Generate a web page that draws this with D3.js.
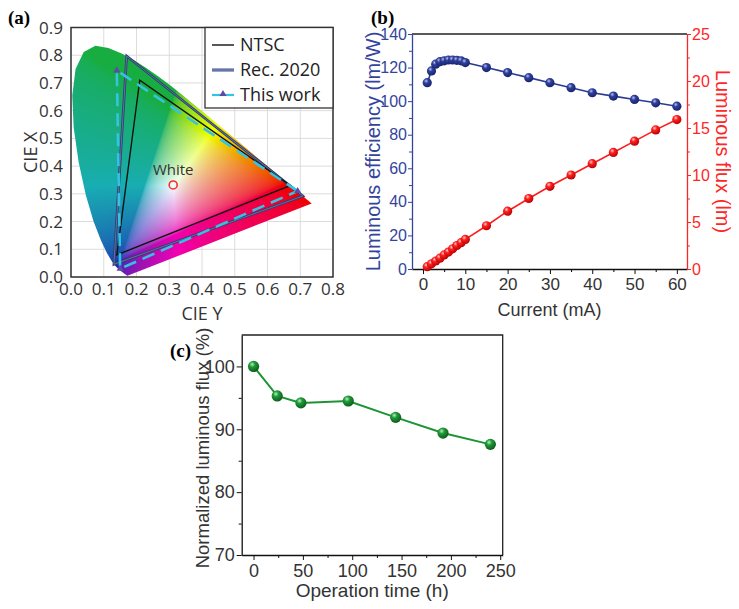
<!DOCTYPE html>
<html>
<head>
<meta charset="utf-8">
<script src="https://cdn.jsdelivr.net/npm/d3@7"></script>
<style>
  body { margin: 0; background: #fff; }
  .sans { font-family: "Liberation Sans", Arial, sans-serif; }
  .cal { font-family: "Open Sans", sans-serif; }
</style>
</head>
<body>
<div id="chart"></div>
<script>
// ---- data ----
// CIE 1931 spectral locus (x, y), 380-700 nm
var locusX = [0.1741,0.1740,0.1738,0.1736,0.1733,0.1730,0.1726,0.1721,0.1714,0.1703,0.1689,0.1669,0.1644,0.1611,0.1566,0.1510,0.1440,0.1355,0.1241,0.1096,0.0913,0.0687,0.0454,0.0235,0.0082,0.0039,0.0139,0.0389,0.0743,0.1142,0.1547,0.1929,0.2296,0.2658,0.3016,0.3373,0.3731,0.4087,0.4441,0.4788,0.5125,0.5448,0.5752,0.6029,0.6270,0.6482,0.6658,0.6801,0.6915,0.7006,0.7079,0.7140,0.7190,0.7230,0.7260,0.7283,0.7300,0.7311,0.7320,0.7334,0.7344,0.7347];
var locusY = [0.0050,0.0050,0.0049,0.0049,0.0048,0.0048,0.0048,0.0048,0.0051,0.0058,0.0069,0.0086,0.0109,0.0138,0.0177,0.0227,0.0297,0.0399,0.0578,0.0868,0.1327,0.2007,0.2950,0.4127,0.5384,0.6548,0.7502,0.8120,0.8338,0.8262,0.8059,0.7816,0.7543,0.7243,0.6923,0.6589,0.6245,0.5896,0.5547,0.5202,0.4866,0.4544,0.4242,0.3965,0.3725,0.3514,0.3340,0.3197,0.3083,0.2993,0.2920,0.2859,0.2809,0.2770,0.2740,0.2717,0.2700,0.2689,0.2680,0.2666,0.2656,0.2653];

var gamutNames = ["NTSC", "Rec. 2020", "This work"];
var ntsc = [[0.67, 0.33], [0.21, 0.71], [0.14, 0.08]];
var rec2020 = [[0.708, 0.292], [0.170, 0.797], [0.131, 0.046]];
var thisWork = [[0.692, 0.31], [0.14, 0.745], [0.15, 0.03]];
var whitePoint = [0.312, 0.332];

var cieTicksX = [0, 0.1, 0.2, 0.3, 0.4, 0.5, 0.6, 0.7, 0.8];
var cieTicksY = [0, 0.1, 0.2, 0.3, 0.4, 0.5, 0.6, 0.7, 0.8, 0.9];

// panel b
var current = [1, 2, 3, 4, 5, 6, 7, 8, 9, 10, 15, 20, 25, 30, 35, 40, 45, 50, 55, 60];
var efficiency = [111, 118, 122, 123.5, 124, 124.5, 124.5, 124.3, 124, 123, 120, 117, 114, 111, 108, 105, 103, 101, 99, 97];
var flux = [0.25, 0.55, 0.85, 1.15, 1.5, 1.8, 2.15, 2.5, 2.8, 3.15, 4.6, 6.15, 7.5, 8.8, 10.0, 11.2, 12.4, 13.6, 14.8, 15.9];

// panel c
var opTime = [0, 24, 48, 96, 144, 192, 240];
var normFlux = [100, 95.3, 94.2, 94.5, 91.9, 89.4, 87.6];

var blue = "#34449c", red = "#ff2626";

var svg = d3.select("#chart").append("svg")
  .attr("width", 739).attr("height", 609)
  .style("background", "#fff");

var defs = svg.append("defs");

function ball(id, hi, mid, dark) {
  var g = defs.append("radialGradient").attr("id", id)
    .attr("cx", "38%").attr("cy", "32%").attr("r", "70%");
  g.append("stop").attr("offset", "0%").attr("stop-color", hi);
  g.append("stop").attr("offset", "35%").attr("stop-color", mid);
  g.append("stop").attr("offset", "100%").attr("stop-color", dark);
}
ball("ballBlue", "#b8c2f0", "#2f3f9c", "#18226a");
ball("ballRed", "#ffd0d0", "#ff2020", "#b80000");
ball("ballGreen", "#b8f0c0", "#1f9a38", "#0c5a1c");

// ================= (a) CIE diagram =================
var xA = d3.scaleLinear().domain([0, 0.8]).range([71, 333]);
var yA = d3.scaleLinear().domain([0, 0.9]).range([277, 27.5]);

var gA = svg.append("g").attr("class", "cal");

// grid
gA.selectAll(".gx").data(cieTicksX).enter().append("line")
  .attr("x1", d => xA(d)).attr("x2", d => xA(d))
  .attr("y1", yA(0)).attr("y2", yA(0.9))
  .attr("stroke", "#dcdcdc").attr("stroke-width", 1);
gA.selectAll(".gy").data(cieTicksY).enter().append("line")
  .attr("x1", xA(0)).attr("x2", xA(0.8))
  .attr("y1", d => yA(d)).attr("y2", d => yA(d))
  .attr("stroke", "#dcdcdc").attr("stroke-width", 1);

// horseshoe colours painted on a canvas, clipped to the locus
var locus = locusX.map((x, i) => [x, locusY[i]]);
var locusLine = d3.line().x(d => xA(d[0])).y(d => yA(d[1]));

defs.append("clipPath").attr("id", "locusClip")
  .append("path").attr("d", locusLine(locus) + "Z");

var x0 = Math.floor(xA(0)), y0 = Math.floor(yA(0.9));
var cw = Math.ceil(xA(0.8)) - x0, ch = Math.ceil(yA(0)) - y0;
var canvas = document.createElement("canvas");
canvas.width = cw; canvas.height = ch;
var ctx = canvas.getContext("2d");
var img = ctx.createImageData(cw, ch);
function gam(c) { return c <= 0.0031308 ? 12.92 * c : 1.055 * Math.pow(c, 1 / 2.4) - 0.055; }
for (var py = 0; py < ch; py++) {
  for (var px = 0; px < cw; px++) {
    var cx = xA.invert(x0 + px + 0.5), cy = yA.invert(y0 + py + 0.5);
    if (cy <= 0.001) cy = 0.001;
    var X = cx / cy, Y = 1, Z = (1 - cx - cy) / cy;
    var r = 3.2406 * X - 1.5372 * Y - 0.4986 * Z;
    var g = -0.9689 * X + 1.8758 * Y + 0.0415 * Z;
    var b = 0.0557 * X - 0.2040 * Y + 1.0570 * Z;
    r = Math.max(r, 0); g = Math.max(g, 0); b = Math.max(b, 0);
    var m = Math.max(r, g, b);
    r = gam(r / m); g = gam(g / m); b = gam(b / m);
    // tone it toward the printed look: bluish green, darker blue
    var R = r + 0.1 * (1 - r) * g;
    var G = g * (0.68 + 0.32 * r);
    var B = Math.min(1, b * (0.7 + 0.3 * Math.min(r, g)) + 0.25 * g * (1 - r) * (1 - b));
    R = Math.min(1, R + 0.12 * (1 - Math.max(r, g)) * b);
    G = Math.min(1, G + 0.18 * (1 - Math.max(r, g)) * b);
    var k = (py * cw + px) * 4;
    img.data[k] = 255 * R * 0.94;
    img.data[k + 1] = 255 * G;
    img.data[k + 2] = 255 * B;
    img.data[k + 3] = 255;
  }
}
ctx.putImageData(img, 0, 0);

gA.append("image")
  .attr("href", canvas.toDataURL())
  .attr("x", x0).attr("y", y0).attr("width", cw).attr("height", ch)
  .attr("clip-path", "url(#locusClip)");

// frame
gA.append("rect")
  .attr("x", xA(0)).attr("y", yA(0.9))
  .attr("width", xA(0.8) - xA(0)).attr("height", yA(0) - yA(0.9))
  .attr("fill", "none").attr("stroke", "#333").attr("stroke-width", 1.5);

var tri = d3.line().x(d => xA(d[0])).y(d => yA(d[1]));

// Rec. 2020 as a double line
gA.append("path").attr("d", tri(rec2020) + "Z")
  .attr("fill", "none").attr("stroke", "#2e3f6e").attr("stroke-width", 2.6);
gA.append("path").attr("d", tri(rec2020) + "Z")
  .attr("fill", "none").attr("stroke", "#6d7cb4").attr("stroke-width", 0.8);

// NTSC
gA.append("path").attr("d", tri(ntsc) + "Z")
  .attr("fill", "none").attr("stroke", "#111").attr("stroke-width", 1.4);

// this work
gA.append("path").attr("d", tri(thisWork) + "Z")
  .attr("fill", "none").attr("stroke", "#35c3e4").attr("stroke-width", 2.6)
  .attr("stroke-dasharray", "13,7");
var triSym = d3.symbol().type(d3.symbolTriangle).size(22);
gA.selectAll(".twm").data(thisWork).enter().append("path")
  .attr("d", triSym)
  .attr("transform", d => `translate(${xA(d[0])},${yA(d[1])})`)
  .attr("fill", "#6048a8");

// white point
gA.append("circle")
  .attr("cx", xA(whitePoint[0])).attr("cy", yA(whitePoint[1]))
  .attr("r", 4).attr("fill", "none").attr("stroke", "#ff2a2a").attr("stroke-width", 1.6);
gA.append("text")
  .attr("x", xA(whitePoint[0])).attr("y", yA(whitePoint[1]) - 10)
  .attr("text-anchor", "middle").attr("font-size", 15).attr("fill", "#333")
  .text("White");

// legend
var leg = gA.append("g");
leg.append("rect").attr("x", 205).attr("y", yA(0.9))
  .attr("width", xA(0.8) - 205).attr("height", 108 - yA(0.9))
  .attr("fill", "#fff").attr("stroke", "#333").attr("stroke-width", 1.3);
var legY = [45, 70, 95];
leg.append("line").attr("x1", 212).attr("x2", 234).attr("y1", legY[0]).attr("y2", legY[0])
  .attr("stroke", "#111").attr("stroke-width", 1.4);
leg.append("line").attr("x1", 212).attr("x2", 234).attr("y1", legY[1]).attr("y2", legY[1])
  .attr("stroke", "#3a4c86").attr("stroke-width", 3);
leg.append("line").attr("x1", 212).attr("x2", 234).attr("y1", legY[1]).attr("y2", legY[1])
  .attr("stroke", "#9aa8dc").attr("stroke-width", 0.9);
leg.append("line").attr("x1", 212).attr("x2", 234).attr("y1", legY[2]).attr("y2", legY[2])
  .attr("stroke", "#35c3e4").attr("stroke-width", 2.2);
leg.append("path").attr("d", triSym)
  .attr("transform", `translate(223,${legY[2] - 1})`).attr("fill", "#6048a8");
leg.selectAll(".lt").data(gamutNames).enter().append("text")
  .attr("x", 240).attr("y", (d, i) => legY[i] + 6)
  .attr("font-size", 18).attr("fill", "#222")
  .text(d => d);

// tick labels (no tick marks)
gA.selectAll(".tx").data(cieTicksX).enter().append("text")
  .attr("x", d => xA(d)).attr("y", 295)
  .attr("text-anchor", "middle").attr("font-size", 17).attr("fill", "#333")
  .text(d => d.toFixed(1));
gA.selectAll(".ty").data(cieTicksY).enter().append("text")
  .attr("x", 63).attr("y", d => yA(d) + 6)
  .attr("text-anchor", "end").attr("font-size", 17).attr("fill", "#333")
  .text(d => d.toFixed(1));

gA.append("text").attr("x", (xA(0) + xA(0.8)) / 2).attr("y", 320)
  .attr("text-anchor", "middle").attr("font-size", 18).attr("fill", "#333")
  .text("CIE Y");
gA.append("text")
  .attr("transform", `translate(37,${(yA(0) + yA(0.9)) / 2}) rotate(-90)`)
  .attr("text-anchor", "middle").attr("font-size", 18).attr("fill", "#333")
  .text("CIE X");

// ================= (b) efficiency / flux =================
var xB = d3.scaleLinear().domain([-2.6, 62.4]).range([412, 687]);
var yBl = d3.scaleLinear().domain([0, 140]).range([269, 34]);
var yBr = d3.scaleLinear().domain([0, 25]).range([269, 34]);

var gB = svg.append("g").attr("class", "sans");

function minor(g) { g.selectAll("text").remove(); g.select(".domain").remove(); }

gB.append("g").attr("transform", "translate(0,269)")
  .call(d3.axisBottom(xB).tickValues(d3.range(5, 60, 10)).tickSize(3).tickFormat("")).call(minor);
gB.append("g").attr("transform", "translate(0,269)").attr("color", "#111")
  .call(d3.axisBottom(xB).tickValues(d3.range(0, 61, 10)).tickSize(5).tickSizeOuter(0).tickPadding(4))
  .call(g => g.selectAll("text").attr("font-size", 17).attr("fill", "#333"));
gB.append("line").attr("x1", 412).attr("x2", 687).attr("y1", 34).attr("y2", 34)
  .attr("stroke", "#222").attr("stroke-width", 1.3);

gB.append("g").attr("transform", "translate(412,0)").attr("color", blue)
  .call(d3.axisLeft(yBl).tickValues(d3.range(10, 140, 20)).tickSize(3).tickFormat("")).call(minor);
gB.append("g").attr("transform", "translate(412,0)").attr("color", blue)
  .call(d3.axisLeft(yBl).tickValues(d3.range(0, 141, 20)).tickSize(4).tickSizeOuter(0).tickPadding(1))
  .call(g => g.selectAll("text").attr("font-size", 16));

gB.append("g").attr("transform", "translate(687,0)").attr("color", red)
  .call(d3.axisRight(yBr).tickValues(d3.range(2.5, 25, 5)).tickSize(3).tickFormat("")).call(minor);
gB.append("g").attr("transform", "translate(687,0)").attr("color", red)
  .call(d3.axisRight(yBr).tickValues(d3.range(0, 26, 5)).tickSize(4).tickSizeOuter(0).tickPadding(1))
  .call(g => g.selectAll("text").attr("font-size", 16));
gB.selectAll(".domain").attr("stroke-width", 1.3);

var effLine = d3.line().x((d, i) => xB(current[i])).y(d => yBl(d));
var fluxLine = d3.line().x((d, i) => xB(current[i])).y(d => yBr(d));
gB.append("path").attr("d", effLine(efficiency))
  .attr("fill", "none").attr("stroke", "#2a3a92").attr("stroke-width", 1.6);
gB.append("path").attr("d", fluxLine(flux))
  .attr("fill", "none").attr("stroke", "#ff1c1c").attr("stroke-width", 1.6);
gB.selectAll(".eff").data(efficiency).enter().append("circle")
  .attr("cx", (d, i) => xB(current[i])).attr("cy", d => yBl(d))
  .attr("r", 4.6).attr("fill", "url(#ballBlue)");
gB.selectAll(".flx").data(flux).enter().append("circle")
  .attr("cx", (d, i) => xB(current[i])).attr("cy", d => yBr(d))
  .attr("r", 4.6).attr("fill", "url(#ballRed)");

gB.append("text").attr("x", (412 + 687) / 2).attr("y", 316)
  .attr("text-anchor", "middle").attr("font-size", 18).attr("fill", "#333")
  .text("Current (mA)");
gB.append("text")
  .attr("transform", `translate(380,${(34 + 269) / 2}) rotate(-90)`)
  .attr("text-anchor", "middle").attr("font-size", 20).attr("fill", blue)
  .text("Luminous efficiency (lm/W)");
gB.append("text")
  .attr("transform", `translate(716,${(34 + 269) / 2}) rotate(90)`)
  .attr("text-anchor", "middle").attr("font-size", 20).attr("fill", red)
  .text("Luminous flux (lm)");

// ================= (c) stability =================
var xC = d3.scaleLinear().domain([-12, 252.5]).range([241.7, 502.7]);
var yC = d3.scaleLinear().domain([70, 105]).range([555, 335]);

var gC = svg.append("g").attr("class", "sans");

gC.append("g").attr("transform", "translate(0,555)").attr("color", "#111")
  .call(d3.axisBottom(xC).tickValues(d3.range(25, 250, 50)).tickSize(3).tickFormat("")).call(minor);
gC.append("g").attr("transform", "translate(0,555)").attr("color", "#111")
  .call(d3.axisBottom(xC).tickValues(d3.range(0, 251, 50)).tickSize(5).tickSizeOuter(0).tickPadding(4))
  .call(g => g.selectAll("text").attr("font-size", 18).attr("fill", "#333"));
gC.append("g").attr("transform", "translate(241.7,0)").attr("color", "#111")
  .call(d3.axisLeft(yC).tickValues([75, 85, 95]).tickSize(3).tickFormat("")).call(minor);
gC.append("g").attr("transform", "translate(241.7,0)").attr("color", "#111")
  .call(d3.axisLeft(yC).tickValues([70, 80, 90, 100]).tickSize(5).tickSizeOuter(0).tickPadding(2))
  .call(g => g.selectAll("text").attr("font-size", 18).attr("fill", "#333"));
gC.append("path")
  .attr("d", `M241.7,335H502.7V555`)
  .attr("fill", "none").attr("stroke", "#222").attr("stroke-width", 1.3);
gC.selectAll(".domain").attr("stroke-width", 1.3);

var stabLine = d3.line().x((d, i) => xC(opTime[i])).y(d => yC(d));
gC.append("path").attr("d", stabLine(normFlux))
  .attr("fill", "none").attr("stroke", "#1c9434").attr("stroke-width", 2);
gC.selectAll(".st").data(normFlux).enter().append("circle")
  .attr("cx", (d, i) => xC(opTime[i])).attr("cy", d => yC(d))
  .attr("r", 5.6).attr("fill", "url(#ballGreen)");

gC.append("text").attr("x", (241.7 + 502.7) / 2).attr("y", 597)
  .attr("text-anchor", "middle").attr("font-size", 19).attr("fill", "#333")
  .text("Operation time (h)");
gC.append("text")
  .attr("transform", `translate(209,${(335 + 555) / 2 + 3}) rotate(-90)`)
  .attr("text-anchor", "middle").attr("font-size", 18.5).attr("fill", "#333")
  .text("Normalized luminous flux (%)");

// panel letters
var letters = [["(a)", 8, 24], ["(b)", 371, 24], ["(c)", 170, 357]];
svg.selectAll(".lab").data(letters).enter().append("text")
  .attr("x", d => d[1]).attr("y", d => d[2])
  .attr("font-family", "'Liberation Serif', 'Times New Roman', serif")
  .attr("font-weight", "bold").attr("font-size", 19)
  .text(d => d[0]);
</script>
</body>
</html>
